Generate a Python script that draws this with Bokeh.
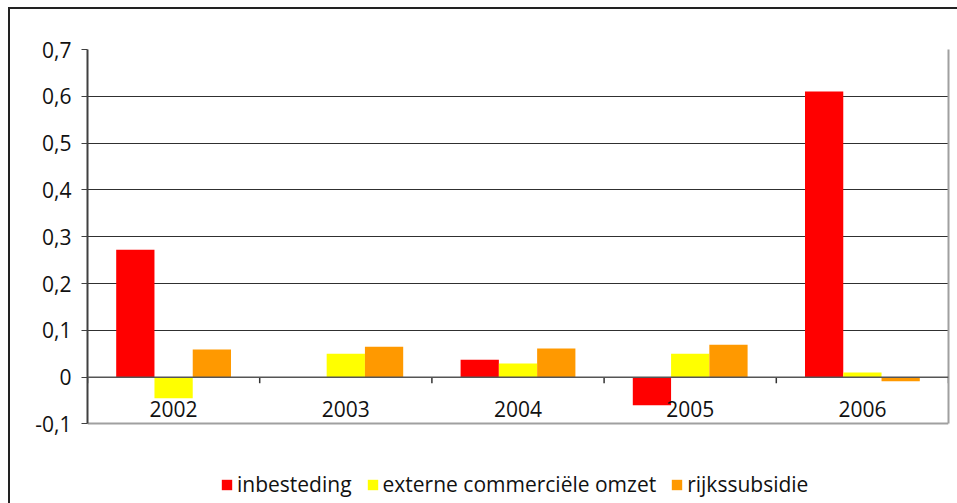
from bokeh.plotting import figure
from bokeh.models import (Range1d, FixedTicker, Legend, LegendItem, Grid, Span,
                          LinearAxis, ColumnDataSource)
from bokeh.core.properties import value
from bokeh.transform import dodge
from bokeh.embed import file_html
from bokeh.resources import INLINE

years = ["2002", "2003", "2004", "2005", "2006"]
inbesteding = [0.272, -0.002, 0.037, -0.060, 0.610]
externe = [-0.045, 0.050, 0.029, 0.050, 0.010]
rijkssubsidie = [0.059, 0.065, 0.061, 0.069, -0.009]
series_names = ["inbesteding", "externe commerciële omzet", "rijkssubsidie"]
colors = ["#FF0000", "#FFFF00", "#FF9900"]
y_ticks = [-0.1, 0.0, 0.1, 0.2, 0.3, 0.4, 0.5, 0.6, 0.7]

FONT = "Open Sans"
FS = "21px"

n = len(years)
xc = [i + 0.5 for i in range(n)]
src = ColumnDataSource(dict(x=xc, a=inbesteding, b=externe, c=rijkssubsidie,
                            year=years, zero=[0] * n))
bounds_src = ColumnDataSource(dict(xb=list(range(n + 1)), y0=[0] * (n + 1),
                                   y1=[-0.013] * (n + 1)))

# the frame runs down to the bottom of the canvas so the legend can live in it;
# the visible plot area is bounded at y = -0.1
p = figure(width=949, height=496, margin=(7, 0, 0, 8),
           output_backend="svg", toolbar_location=None,
           x_range=Range1d(0, n), y_range=Range1d(-0.27, 0.7),
           x_axis_type=None, y_axis_location="left",
           min_border_left=79, min_border_right=9, min_border_top=42,
           min_border_bottom=0)
p.border_fill_color = None
p.background_fill_color = "white"
p.styles = {"box-shadow": "inset 2px 2px 0 0 #222", "background-color": "white"}
p.outline_line_color = None

bw = 1 / 4.5
renderers = []
for key, off, col in zip(["a", "b", "c"], [-bw, 0, bw], colors):
    r = p.vbar(x=dodge("x", off, range=p.x_range), top=key, bottom=0, width=bw,
               source=src, fill_color=col, line_color=None)
    renderers.append(r)

# category-boundary tick marks hanging under the zero line
p.segment(x0="xb", y0="y0", x1="xb", y1="y1", source=bounds_src,
          line_color="#333333", line_width=1.5)

# year labels just under the zero line
p.text(x="x", y="zero", text="year", source=src, y_offset=24,
       text_align="center", text_baseline="top", text_font=value(FONT),
       text_font_size=FS, text_color="#111111")

# y axis
ya = p.yaxis[0]
ya.ticker = FixedTicker(ticks=y_ticks)
ya.bounds = (y_ticks[0], y_ticks[-1])
ya.major_label_overrides = {t: (("%.1f" % t).replace(".", ",") if t != 0 else "0") for t in y_ticks}
ya.axis_line_color = "#404040"
ya.axis_line_width = 2
ya.major_tick_line_color = "#404040"
ya.major_tick_in = 0
ya.major_tick_out = 6
ya.minor_tick_line_color = None
ya.major_label_standoff = 10
ya.major_label_text_font = FONT
ya.major_label_text_font_size = FS
ya.major_label_text_color = "#111111"

p.ygrid.ticker = FixedTicker(ticks=y_ticks[1:-1])
p.ygrid.grid_line_color = "#303030"
p.ygrid.grid_line_width = 1
p.xgrid.visible = False

# grey plot-area border: top and bottom lines
p.add_layout(Grid(dimension=1, ticker=FixedTicker(ticks=[y_ticks[0], y_ticks[-1]]),
                  grid_line_color="#a0a0a0", grid_line_width=2))
# grey plot-area border: right line, bounded to the plot area
ra = LinearAxis(ticker=FixedTicker(ticks=[]), bounds=(y_ticks[0], y_ticks[-1]))
ra.axis_line_color = "#a0a0a0"
ra.axis_line_width = 2
ra.major_tick_line_color = None
ra.minor_tick_line_color = None
ra.major_label_text_font_size = "0px"
ra.major_label_standoff = 0
p.add_layout(ra, "right")

# zero line
p.add_layout(Span(location=0, dimension="width", line_color="#555555", line_width=1.5))

legend = Legend(items=[LegendItem(label=s, renderers=[r]) for s, r in zip(series_names, renderers)],
                location=(133, 5), orientation="horizontal")
legend.border_line_color = None
legend.background_fill_alpha = 0
legend.padding = 0
legend.margin = 0
legend.spacing = 14
legend.label_standoff = 4
legend.glyph_width = 13
legend.glyph_height = 13
legend.label_text_font = FONT
legend.label_text_font_size = FS
legend.label_text_color = "#111111"
p.add_layout(legend, "center")

open("out.html", "w").write(file_html(p, INLINE))
